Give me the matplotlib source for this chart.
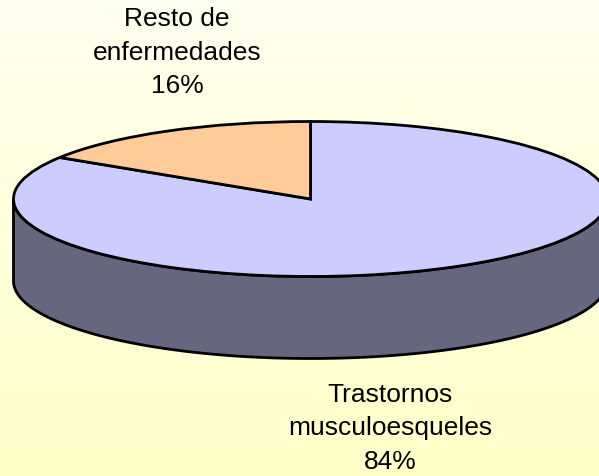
import numpy as np
import matplotlib
matplotlib.use("Agg")
import matplotlib.pyplot as plt
from matplotlib.colors import LinearSegmentedColormap

categories = ["Trastornos\nmusculoesqueles", "Resto de\nenfermedades"]
values = [84, 16]
percent_labels = ["84%", "16%"]
top_colors = ["#CCCCFF", "#FFCC99"]
side_color = "#66667F"

W, H = 599, 477
CX, CY, RX, RY, DEPTH = 310.5, 200, 297, 77.5, 82
LW = 2.0

plt.rcParams["font.family"] = "Liberation Sans"
fig = plt.figure(figsize=(W / 100, H / 100), dpi=100)

bg = fig.add_axes([0, 0, 1, 1], zorder=0)
bg.axis("off")
cmap = LinearSegmentedColormap.from_list("bg", ["#FFFFF0", "#FFFFC8"])
bg.imshow(np.linspace(0, 1, 256)[:, None], aspect="auto", cmap=cmap, extent=[0, W, H, 0])

# Side wall (the visible lower half of the cylinder)
ax = fig.add_axes([0, 0, 1, 1], zorder=1)
ax.set_xlim(0, W)
ax.set_ylim(H, 0)
ax.axis("off")
t = np.linspace(0, np.pi, 400)
x = CX + RX * np.cos(t)
y = CY + RY * np.sin(t)
ax.fill(np.r_[x, x[::-1]], np.r_[y, y[::-1] + DEPTH], facecolor=side_color,
        edgecolor="black", linewidth=LW, joinstyle="round")

# Top face: an ordinary pie squashed into an ellipse by its axes box
pie_ax = fig.add_axes([(CX - RX) / W, 1 - (CY + RY) / H, 2 * RX / W, 2 * RY / H], zorder=2)
pie_ax.pie(values, colors=top_colors, startangle=90, counterclock=False, radius=1,
           wedgeprops={"edgecolor": "black", "linewidth": LW, "clip_on": False})
pie_ax.set_aspect("auto")
pie_ax.set_xlim(-1, 1)
pie_ax.set_ylim(-1, 1)
pie_ax.axis("off")

label_pos = [(390.5, 428.5), (177, 52.5)]
for cat, pct, (lx, ly) in zip(categories, percent_labels, label_pos):
    ax.text(lx, ly, f"{cat}\n{pct}", ha="center", va="center", fontsize=19,
            linespacing=1.48, color="black", zorder=3)

fig.savefig("out.png", dpi=100)
